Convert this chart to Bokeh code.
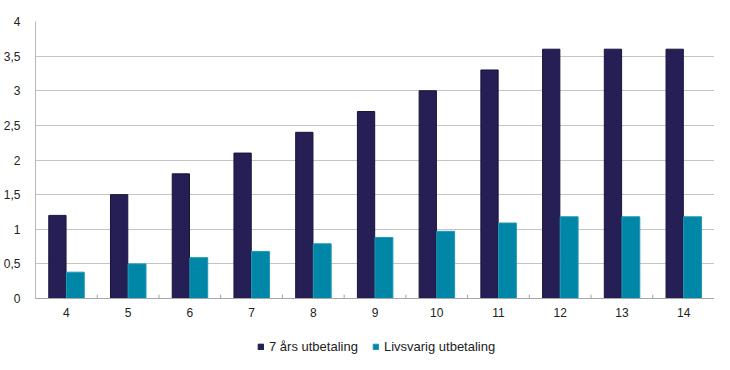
from bokeh.plotting import figure
from bokeh.models import ColumnDataSource, FixedTicker, Legend, LegendItem, Range1d
from bokeh.layouts import column
from bokeh.transform import dodge
from bokeh.embed import file_html
from bokeh.resources import INLINE

categories = [4, 5, 6, 7, 8, 9, 10, 11, 12, 13, 14]
seven_year = [1.2, 1.5, 1.8, 2.1, 2.4, 2.7, 3.0, 3.3, 3.6, 3.6, 3.6]
lifelong = [0.38, 0.5, 0.59, 0.68, 0.79, 0.88, 0.97, 1.09, 1.18, 1.18, 1.18]
series_names = ["7 års utbetaling", "Livsvarig utbetaling"]
y_ticks = [0, 0.5, 1, 1.5, 2, 2.5, 3, 3.5, 4]
y_tick_labels = ["0", "0,5", "1", "1,5", "2", "2,5", "3", "3,5", "4"]

FONT = "Liberation Sans"
TXT = "#222222"
DARK = "#261f55"
DARK_EDGE = "#18143c"
TEAL = "#0087a7"
TEAL_EDGE = "#1f97b3"

src = ColumnDataSource(dict(x=categories, a=seven_year, b=lifelong))

p = figure(width=714, height=321, output_backend="svg", toolbar_location=None,
           x_range=Range1d(categories[0] - 0.5, categories[-1] + 0.5),
           y_range=Range1d(0, 4),
           min_border_left=22, min_border_right=0, min_border_top=21, min_border_bottom=23)
p.outline_line_color = None

r1 = p.vbar(x=dodge("x", -0.145, range=p.x_range), top="a", width=0.28, source=src,
            fill_color=DARK, line_color=DARK_EDGE, line_width=1)
r2 = p.vbar(x=dodge("x", 0.145, range=p.x_range), top="b", width=0.29, source=src,
            fill_color=TEAL, line_color=TEAL_EDGE, line_width=1)

# tick marks at category boundaries
bounds = [c + 0.5 for c in categories[:-1]]
p.segment(x0=bounds, y0=[0] * len(bounds), x1=bounds, y1=[0.055] * len(bounds),
          line_color="#a0a0a0", line_width=1)

p.xaxis.ticker = FixedTicker(ticks=categories)
p.xaxis.major_tick_line_color = None
p.xaxis.minor_tick_line_color = None
p.xaxis.axis_line_color = "#a8a8a8"
p.xaxis.major_label_standoff = 3
p.xaxis.major_label_text_font = FONT
p.xaxis.major_label_text_font_size = "12px"
p.xaxis.major_label_text_color = TXT

p.yaxis.ticker = FixedTicker(ticks=y_ticks)
p.yaxis.major_label_overrides = {t: l for t, l in zip(y_ticks, y_tick_labels)}
p.yaxis.major_tick_line_color = None
p.yaxis.minor_tick_line_color = None
p.yaxis.axis_line_color = "#b8b8b8"
p.yaxis.major_label_standoff = 9
p.yaxis.major_label_text_font = FONT
p.yaxis.major_label_text_font_size = "12px"
p.yaxis.major_label_text_color = TXT

p.xgrid.grid_line_color = None
p.ygrid.grid_line_color = "#c4c4c4"
p.ygrid.grid_line_width = 1

# legend panel below the chart (swatch renderers sit outside the visible range)
lf = figure(width=714, height=33, output_backend="svg", toolbar_location=None,
            x_range=Range1d(0, 1), y_range=Range1d(0, 1),
            x_axis_location=None, y_axis_location=None,
            min_border_left=0, min_border_right=0, min_border_top=0, min_border_bottom=0)
lf.grid.visible = False
lf.outline_line_color = None
swatch = ColumnDataSource(dict(x=[-10], top=[-10]))
l1 = lf.vbar(x="x", top="top", width=0.1, source=swatch, fill_color=DARK, line_color=DARK_EDGE)
l2 = lf.vbar(x="x", top="top", width=0.1, source=swatch, fill_color=TEAL, line_color=TEAL_EDGE)

legend = Legend(items=[LegendItem(label=series_names[0], renderers=[l1]),
                       LegendItem(label=series_names[1], renderers=[l2])],
                orientation="horizontal", location=(222, 0))
legend.glyph_width = 7
legend.glyph_height = 7
legend.label_height = 12
legend.label_standoff = 5
legend.spacing = 14
legend.padding = 0
legend.margin = 0
legend.border_line_color = None
legend.background_fill_alpha = 0
legend.label_text_font = FONT
legend.label_text_font_size = "13px"
legend.label_text_color = TXT
lf.add_layout(legend)

open("out.html", "w").write(file_html(column(p, lf, spacing=0), INLINE))
